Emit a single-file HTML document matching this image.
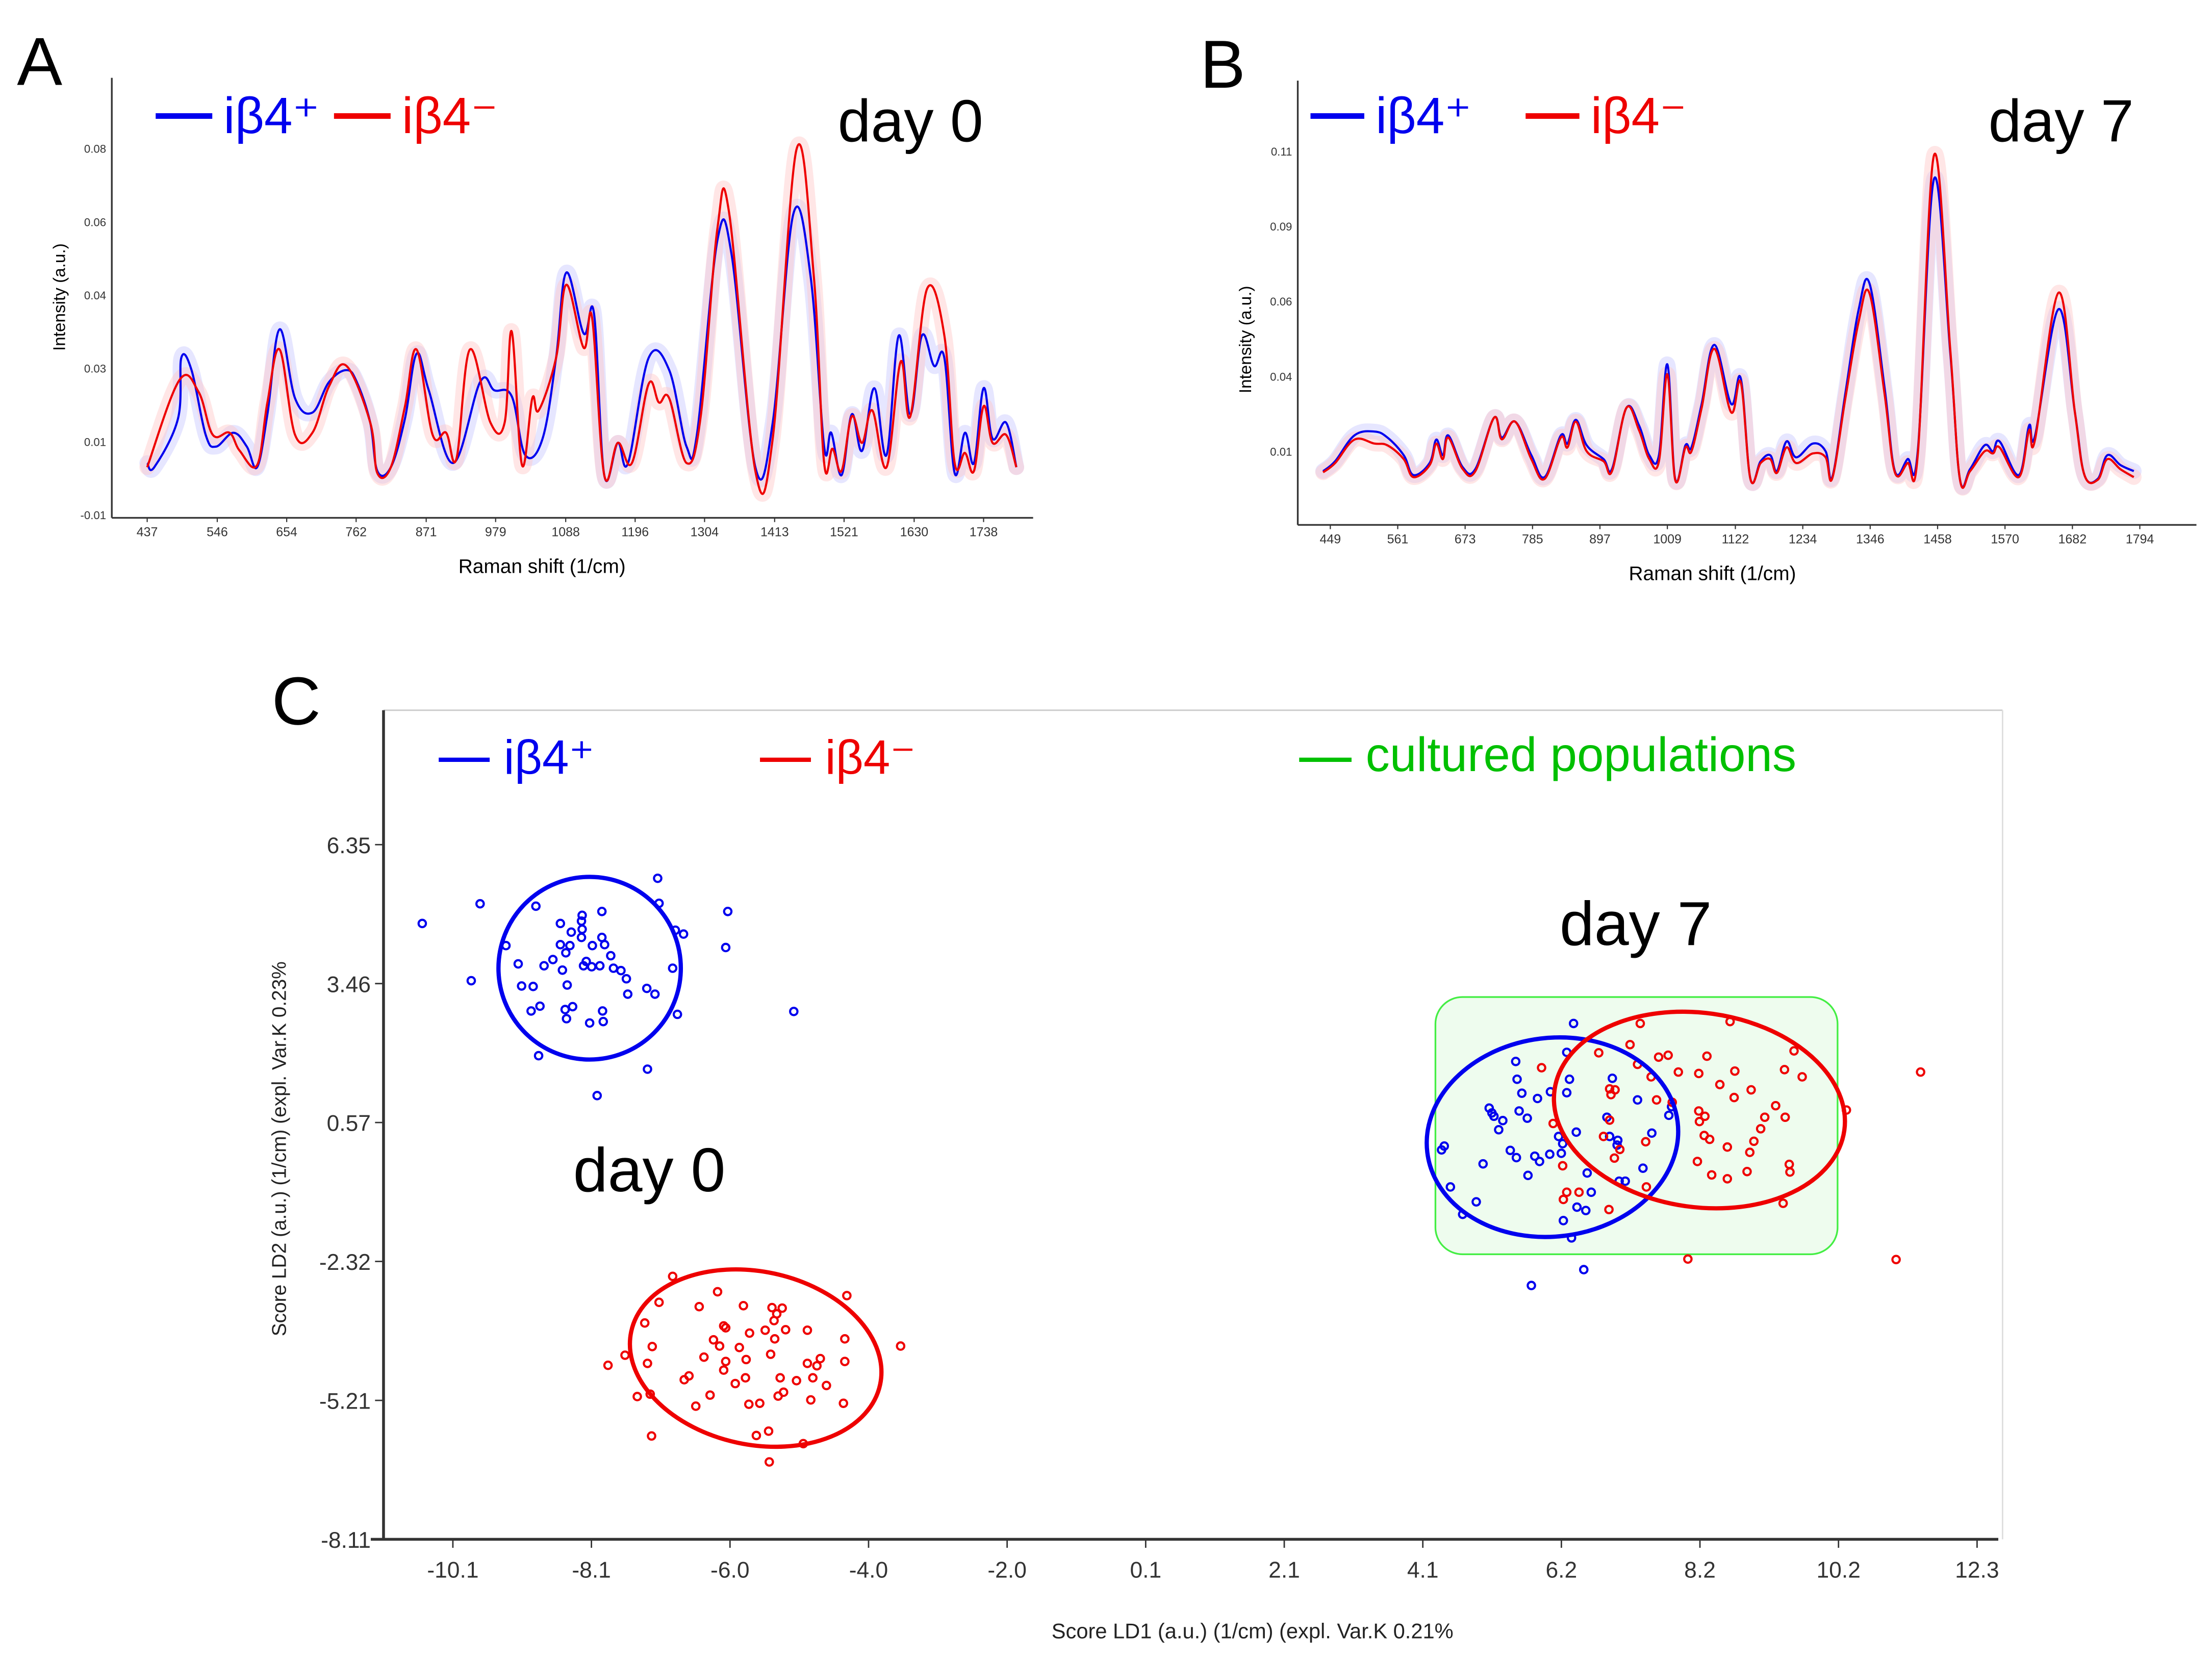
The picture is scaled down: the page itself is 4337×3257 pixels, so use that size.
<!DOCTYPE html>
<html><head><meta charset="utf-8"><style>
html,body{margin:0;padding:0;background:#fff;}
svg{display:block;font-family:"Liberation Sans",sans-serif;}
</style></head><body>
<svg id="fig" width="4337" height="3257" viewBox="0 0 1563 1174" preserveAspectRatio="none" xmlns="http://www.w3.org/2000/svg">
<rect x="0" y="0" width="1563" height="1174" fill="#fff"/>
<g>
<text x="12" y="60" font-size="48">A</text>
<line x1="79" y1="55" x2="79" y2="366" stroke="#333" stroke-width="1.2"/>
<line x1="79" y1="366" x2="730" y2="366" stroke="#333" stroke-width="1.2"/>
<g id="aTicks"></g>
<g id="aBands"></g><g id="aLines"></g>
<text x="46" y="210" font-size="12" text-anchor="middle" transform="rotate(-90 46 210)">Intensity (a.u.)</text>
<text x="383" y="405" font-size="14" text-anchor="middle">Raman shift (1/cm)</text>
<line x1="110" y1="82" x2="150" y2="82" stroke="#0000ee" stroke-width="4"/>
<text x="158" y="94" font-size="36" fill="#0000ee">iβ4⁺</text>
<line x1="236" y1="82" x2="276" y2="82" stroke="#ee0000" stroke-width="4"/>
<text x="284" y="94" font-size="36" fill="#ee0000">iβ4⁻</text>
<text x="592" y="100" font-size="42">day 0</text>
</g>
<g>
<text x="848" y="62" font-size="48">B</text>
<line x1="917" y1="57" x2="917" y2="371" stroke="#333" stroke-width="1.2"/>
<line x1="917" y1="371" x2="1552" y2="371" stroke="#333" stroke-width="1.2"/>
<g id="bTicks"></g>
<g id="bBands"></g><g id="bLines"></g>
<text x="884" y="240" font-size="12" text-anchor="middle" transform="rotate(-90 884 240)">Intensity (a.u.)</text>
<text x="1210" y="410" font-size="14" text-anchor="middle">Raman shift (1/cm)</text>
<line x1="926" y1="82" x2="964" y2="82" stroke="#0000ee" stroke-width="4"/>
<text x="972" y="94" font-size="36" fill="#0000ee">iβ4⁺</text>
<line x1="1078" y1="82" x2="1116" y2="82" stroke="#ee0000" stroke-width="4"/>
<text x="1124" y="94" font-size="36" fill="#ee0000">iβ4⁻</text>
<text x="1405" y="100" font-size="42">day 7</text>
</g>
<g>
<text x="192" y="512" font-size="48">C</text>
<line x1="271" y1="502" x2="1415" y2="502" stroke="#ccc" stroke-width="1"/>
<line x1="1415" y1="502" x2="1415" y2="1088" stroke="#ddd" stroke-width="1"/>
<line x1="271" y1="502" x2="271" y2="1088" stroke="#333" stroke-width="2"/>
<line x1="262" y1="1088" x2="1412" y2="1088" stroke="#333" stroke-width="2"/>
<g id="cTicks"></g>
<g id="cMarks"></g>
<text x="202" y="812" font-size="14" text-anchor="middle" fill="#222" transform="rotate(-90 202 812)">Score LD2 (a.u.) (1/cm) (expl. Var.K 0.23%</text>
<text x="885" y="1158" font-size="15" text-anchor="middle" fill="#222">Score LD1 (a.u.) (1/cm) (expl. Var.K 0.21%</text>
<line x1="310" y1="537" x2="346" y2="537" stroke="#0000ee" stroke-width="3"/>
<text x="356" y="547" font-size="34" fill="#0000ee">iβ4⁺</text>
<line x1="537" y1="537" x2="573" y2="537" stroke="#ee0000" stroke-width="3"/>
<text x="583" y="547" font-size="34" fill="#ee0000">iβ4⁻</text>
<line x1="918" y1="537" x2="955" y2="537" stroke="#00c000" stroke-width="3"/>
<text x="965" y="545" font-size="34" fill="#00c000">cultured populations</text>
<text x="1102" y="668" font-size="44">day 7</text>
<text x="405" y="842" font-size="44">day 0</text>
</g>
</svg>
<script>
const NS="http://www.w3.org/2000/svg";
const aXTicks=[437,546,654,762,871,979,1088,1196,1304,1413,1521,1630,1738];
const aYTicks=["-0.01","0.01","0.03","0.04","0.06","0.08"];
const aBlueWn=[437,448,485,490,506,528,544,571,592,608,624,643,667,694,720,747,763,784,795,816,838,856,875,913,955,977,1004,1025,1052,1073,1089,1116,1132,1148,1169,1185,1217,1249,1276,1292,1324,1346,1383,1410,1442,1469,1490,1501,1517,1533,1549,1568,1587,1606,1624,1642,1661,1677,1693,1709,1723,1738,1752,1773,1789];
const aBlueVal=[.0052,.0042,.0158,.0302,.0273,.0119,.0091,.0124,.0091,.0042,.0168,.0370,.0206,.0172,.0245,.0273,.0245,.0148,.0033,.0042,.0158,.0312,.0225,.0052,.0245,.0225,.0211,.0071,.0110,.0302,.0505,.0360,.0408,.0023,.0100,.0052,.0302,.0273,.0091,.0119,.0582,.0548,.0042,.0148,.0644,.0495,.0091,.0124,.0023,.0168,.0081,.0230,.0071,.0355,.0168,.0355,.0283,.0302,.0028,.0124,.0052,.0230,.0110,.0148,.0042];
const aRedWn=[437,487,517,539,565,581,608,624,643,667,694,720,747,784,795,816,838,856,881,902,918,939,971,993,1004,1020,1036,1046,1073,1089,1116,1129,1148,1169,1191,1217,1233,1249,1276,1298,1324,1342,1383,1410,1447,1474,1490,1503,1517,1533,1549,1565,1587,1609,1624,1650,1677,1693,1709,1723,1738,1752,1773,1789];
const aRedVal=[.0042,.0249,.0221,.0119,.0124,.0081,.0047,.0196,.0322,.0119,.0124,.0235,.0283,.0148,.0028,.0042,.0187,.0322,.0119,.0124,.0062,.0322,.0148,.0148,.0365,.0047,.0206,.0177,.0302,.0476,.0326,.0398,.0023,.0100,.0052,.0240,.0196,.0206,.0052,.0163,.0610,.0649,.0033,.0110,.0798,.0495,.0052,.0086,.0033,.0163,.0100,.0177,.0042,.0293,.0163,.0466,.0355,.0052,.0076,.0033,.0187,.0100,.0119,.0042];
const bXTicks=[449,561,673,785,897,1009,1122,1234,1346,1458,1570,1682,1794];
const bYTicks=["0.01","0.04","0.06","0.09","0.11"];
const bWn=[437,457,489,522,544,571,587,614,625,636,645,669,690,721,734,756,783,805,832,843,857,875,903,917,941,962,979,995,1009,1022,1039,1049,1066,1087,1115,1131,1147,1164,1180,1191,1207,1223,1251,1272,1283,1305,1327,1345,1370,1387,1408,1425,1452,1479,1495,1512,1536,1550,1561,1593,1610,1620,1659,1686,1702,1724,1740,1762,1784];
const bBlueVal=[.0034,.0067,.0153,.0166,.0146,.0087,.0021,.0061,.0139,.0087,.0153,.0047,.0041,.0212,.0146,.0199,.0087,.0014,.0153,.0126,.0205,.0120,.0074,.0041,.0245,.0186,.0087,.0087,.0390,.0008,.0120,.0113,.0258,.0455,.0258,.0343,.0008,.0067,.0087,.0034,.0133,.0080,.0126,.0100,.0014,.0297,.0574,.0659,.0311,.0034,.0074,.0100,.1008,.0429,.0008,.0041,.0120,.0100,.0133,.0021,.0186,.0153,.0574,.0232,.0021,.0008,.0087,.0054,.0034];
const bRedVal=[.0030,.0061,.0139,.0126,.0120,.0074,.0014,.0054,.0126,.0074,.0146,.0041,.0034,.0212,.0140,.0199,.0074,.0008,.0146,.0113,.0199,.0100,.0067,.0034,.0245,.0170,.0074,.0067,.0357,.0005,.0113,.0100,.0245,.0442,.0230,.0330,.0008,.0061,.0074,.0028,.0113,.0061,.0093,.0080,.0010,.0280,.0534,.0626,.0290,.0030,.0061,.0087,.1087,.0440,.0008,.0034,.0100,.0093,.0113,.0014,.0170,.0140,.0629,.0232,.0021,.0005,.0074,.0040,.0014];
const cXTicks=["-10.1","-8.1","-6.0","-4.0","-2.0","0.1","2.1","4.1","6.2","8.2","10.2","12.3"];
const cYTicks=["6.35","3.46","0.57","-2.32","-5.21","-8.11"];
const d0BlueX=[-10.55,-9.70,-8.88,-7.09,-7.07,-7.91,-6.06,-6.83,-6.71,-6.09,-9.32,-8.52,-8.20,-8.21,-8.20,-8.36,-8.52,-8.38,-8.44,-8.21,-8.05,-7.91,-7.87,-7.78,-8.14,-8.18,-8.06,-7.94,-7.74,-7.63,-7.55,-6.87,-8.63,-8.76,-9.14,-8.49,-9.83,-9.09,-8.92,-8.42,-7.53,-7.25,-7.13,-8.95,-8.82,-8.45,-8.34,-8.43,-8.09,-7.90,-7.89,-6.80,-5.09,-8.84,-7.24,-7.98];
const d0BlueY=[4.71,5.12,5.07,5.65,5.13,4.96,4.96,4.57,4.49,4.21,4.25,4.71,4.88,4.76,4.59,4.53,4.27,4.25,4.10,4.42,4.25,4.42,4.27,4.04,3.92,3.83,3.81,3.83,3.78,3.73,3.56,3.78,3.96,3.83,3.87,3.74,3.52,3.41,3.40,3.43,3.24,3.36,3.24,2.89,2.99,2.92,2.98,2.73,2.64,2.89,2.67,2.82,2.88,1.96,1.68,1.13];
const d0RedX=[-6.87,-6.21,-4.31,-7.07,-6.48,-5.83,-5.41,-5.26,-5.34,-5.38,-7.28,-6.12,-6.09,-5.74,-5.51,-5.21,-4.89,-5.37,-6.27,-6.18,-4.34,-7.17,-5.89,-7.57,-3.52,-6.41,-6.09,-5.79,-5.43,-7.24,-7.82,-6.12,-4.89,-4.75,-4.70,-4.34,-4.81,-4.61,-5.05,-6.70,-6.63,-5.95,-5.80,-5.29,-5.24,-5.32,-6.32,-7.20,-7.39,-6.53,-5.75,-5.59,-4.84,-4.36,-7.18,-5.64,-5.46,-4.95,-5.45];
const d0RedY=[-2.63,-2.95,-3.03,-3.17,-3.26,-3.24,-3.28,-3.29,-3.41,-3.55,-3.60,-3.66,-3.70,-3.81,-3.75,-3.74,-3.75,-3.93,-3.95,-4.08,-3.93,-4.09,-4.11,-4.27,-4.08,-4.31,-4.40,-4.36,-4.25,-4.44,-4.48,-4.58,-4.44,-4.49,-4.34,-4.40,-4.74,-4.90,-4.80,-4.78,-4.70,-4.86,-4.74,-4.74,-5.04,-5.12,-5.10,-5.08,-5.13,-5.33,-5.29,-5.27,-5.20,-5.27,-5.95,-5.94,-5.85,-6.11,-6.49];
const d7BlueX=[6.37,5.52,6.27,5.54,6.31,6.94,5.61,5.84,6.03,6.27,7.31,7.81,5.13,5.17,5.20,5.33,5.27,5.57,5.69,6.86,6.41,6.15,6.21,6.90,7.02,7.01,7.52,7.77,4.47,4.43,5.44,5.53,5.80,5.87,6.02,6.19,5.04,5.70,6.57,7.39,7.04,7.13,4.56,4.94,4.74,6.63,6.42,6.55,6.22,6.34,6.52,5.75];
const d7BlueY=[2.63,1.84,2.03,1.47,1.47,1.49,1.18,1.07,1.21,1.19,1.04,0.90,0.87,0.77,0.70,0.61,0.42,0.81,0.66,0.68,0.37,0.28,0.13,0.28,0.20,0.10,0.35,0.72,0.08,0.00,-0.01,-0.16,-0.13,-0.24,-0.09,-0.07,-0.29,-0.53,-0.48,-0.38,-0.65,-0.65,-0.77,-1.08,-1.34,-0.88,-1.19,-1.26,-1.47,-1.83,-2.49,-2.82];
const d7RedX=[7.35,8.67,7.20,6.74,7.62,7.76,8.33,9.61,5.90,7.31,7.91,8.21,8.74,9.47,9.73,11.47,7.51,8.52,8.98,6.90,6.98,6.92,8.73,7.59,7.82,9.34,8.21,8.30,8.22,9.18,9.48,10.38,6.07,6.90,9.12,6.81,8.29,8.37,9.02,7.43,8.63,8.96,7.05,6.97,8.19,9.54,9.55,8.40,8.63,8.92,6.21,7.44,6.27,6.45,6.22,6.89,9.45,8.05,11.11];
const d7RedY=[2.63,2.67,2.19,2.02,1.93,1.97,1.95,2.06,1.71,1.78,1.62,1.59,1.64,1.67,1.52,1.62,1.52,1.36,1.25,1.27,1.25,1.15,1.09,1.04,0.99,0.92,0.81,0.70,0.59,0.68,0.68,0.83,0.55,0.62,0.44,0.28,0.30,0.22,0.18,0.17,0.06,-0.05,0.01,-0.17,-0.24,-0.30,-0.46,-0.52,-0.60,-0.45,-0.33,-0.77,-0.88,-0.88,-1.03,-1.24,-1.11,-2.27,-2.28];
const ellD0Blue=[-8.09,3.78,1.34,1.90,0];
const ellD0Red=[-5.65,-4.33,1.87,1.80,12];
const ellD7Blue=[6.06,0.265,1.853,2.066,-7];
const ellD7Red=[8.22,0.83,2.15,2.02,8];
const culturedBox=[4.34,10.25,3.18,-2.17];

const xA=v=>104+(v-437)*(695-104)/(1738-437);
const yA=v=>313-(v-0.01)*(313-105)/0.07;
const xB=v=>940+(v-449)*(1512-940)/(1794-449);
const yB=v=>319-(v-0.01)*(319-107)/0.10;
const xC=v=>320+(v+10.1)*48.08;
const yC=v=>597-(v-6.35)*33.98;

function el(tag,attrs,parent){const e=document.createElementNS(NS,tag);for(const k in attrs)e.setAttribute(k,attrs[k]);parent.appendChild(e);return e;}
function path(wn,val,xs,ys){
  const P=wn.map((w,i)=>[xs(w),ys(val[i])]);
  let d='M'+P[0][0].toFixed(2)+','+P[0][1].toFixed(2);
  const t=0.18;
  for(let i=0;i<P.length-1;i++){
    const p0=P[Math.max(0,i-1)],p1=P[i],p2=P[i+1],p3=P[Math.min(P.length-1,i+2)];
    const c1=[p1[0]+(p2[0]-p0[0])*t,p1[1]+(p2[1]-p0[1])*t];
    const c2=[p2[0]-(p3[0]-p1[0])*t,p2[1]-(p3[1]-p1[1])*t];
    d+=' C'+c1[0].toFixed(2)+','+c1[1].toFixed(2)+' '+c2[0].toFixed(2)+','+c2[1].toFixed(2)+' '+p2[0].toFixed(2)+','+p2[1].toFixed(2);
  }
  return d;
}

function drawSpectra(prefix,ticksG,bandsG,linesG,xT,yT,xs,ys,axisY,axisX,tickTop,tickBot,series){
  const tg=document.getElementById(ticksG);
  xT.forEach(t=>{
    const tx=el('text',{x:xs(t),y:axisY+13,'font-size':9,'text-anchor':'middle',fill:'#333'},tg);
    tx.textContent=t;
    
    
    el('line',{x1:xs(t),x2:xs(t),y1:axisY,y2:axisY+3,stroke:'#333','stroke-width':0.8},tg);
  });
  yT.forEach((t,i)=>{
    const yy=tickBot-(tickBot-tickTop)*i/(yT.length-1);
    const tx=el('text',{x:axisX-4,y:yy+3,'font-size':8,'text-anchor':'end',fill:'#333'},tg);
    tx.textContent=t;
    
    
  });
  const bg=document.getElementById(bandsG), lg=document.getElementById(linesG);
  series.forEach(s=>{
    const d=path(s.wn,s.val,xs,ys);
    const b=el('path',{d:d,fill:'none',stroke:s.band,'stroke-width':11,'stroke-opacity':0.45,'stroke-linejoin':'round','stroke-linecap':'round'},bg);
    
    
    const l=el('path',{d:d,fill:'none',stroke:s.color,'stroke-width':1.5,'stroke-linejoin':'round'},lg);
    
    
  });
}
drawSpectra('a','aTicks','aBands','aLines',aXTicks,aYTicks,xA,yA,366,79,105,364,[
 {wn:aBlueWn,val:aBlueVal,color:'#0000ee',band:'#c8c8ff',name:'blue'},
 {wn:aRedWn,val:aRedVal,color:'#ee0000',band:'#ffc8c8',name:'red'}]);
drawSpectra('b','bTicks','bBands','bLines',bXTicks,bYTicks,xB,yB,371,917,107,319,[
 {wn:bWn,val:bBlueVal,color:'#0000ee',band:'#c8c8ff',name:'blue'},
 {wn:bWn,val:bRedVal,color:'#ee0000',band:'#ffc8c8',name:'red'}]);

const cg=document.getElementById('cTicks');
cXTicks.forEach((t,i)=>{
  const xx=320+i*(1397-320)/(cXTicks.length-1);
  el('line',{x1:xx,x2:xx,y1:1088,y2:1094,stroke:'#333','stroke-width':1},cg);
  const tx=el('text',{x:xx,y:1115,'font-size':16,'text-anchor':'middle',fill:'#333'},cg);
  tx.textContent=t;
  
  
});
cYTicks.forEach((t,i)=>{
  const yy=597+i*(1088-597)/(cYTicks.length-1);
  el('line',{x1:265,x2:271,y1:yy,y2:yy,stroke:'#333','stroke-width':1},cg);
  const tx=el('text',{x:262,y:yy+6,'font-size':16,'text-anchor':'end',fill:'#333'},cg);
  tx.textContent=t;
  
  
});
const mg=document.getElementById('cMarks');
const bx=el('rect',{x:xC(culturedBox[0]),y:yC(culturedBox[2]),width:xC(culturedBox[1])-xC(culturedBox[0]),height:yC(culturedBox[3])-yC(culturedBox[2]),rx:19,ry:19,fill:'#eefcee',stroke:'#44ee44','stroke-width':1.2},mg);


function pts(xs,ys,color,name){xs.forEach((v,i)=>{
  const c=el('circle',{cx:xC(v),cy:yC(ys[i]),r:2.6,fill:'none',stroke:color,'stroke-width':1.5},mg);
  
  
});}
function ell(e,color,name){
  const cx=xC(e[0]),cy=yC(e[1]);
  const g=el('ellipse',{cx:cx,cy:cy,rx:e[2]*48.08,ry:e[3]*33.98,fill:'none',stroke:color,'stroke-width':3,transform:'rotate('+e[4]+' '+cx+' '+cy+')'},mg);
  
  
}
pts(d0BlueX,d0BlueY,'#0000ee','day0-blue-point');
pts(d0RedX,d0RedY,'#ee0000','day0-red-point');
pts(d7BlueX,d7BlueY,'#0000ee','day7-blue-point');
pts(d7RedX,d7RedY,'#ee0000','day7-red-point');
ell(ellD0Blue,'#0000ee','day0-blue-ellipse');
ell(ellD0Red,'#ee0000','day0-red-ellipse');
ell(ellD7Blue,'#0000ee','day7-blue-ellipse');
ell(ellD7Red,'#ee0000','day7-red-ellipse');
</script>
</body></html>
